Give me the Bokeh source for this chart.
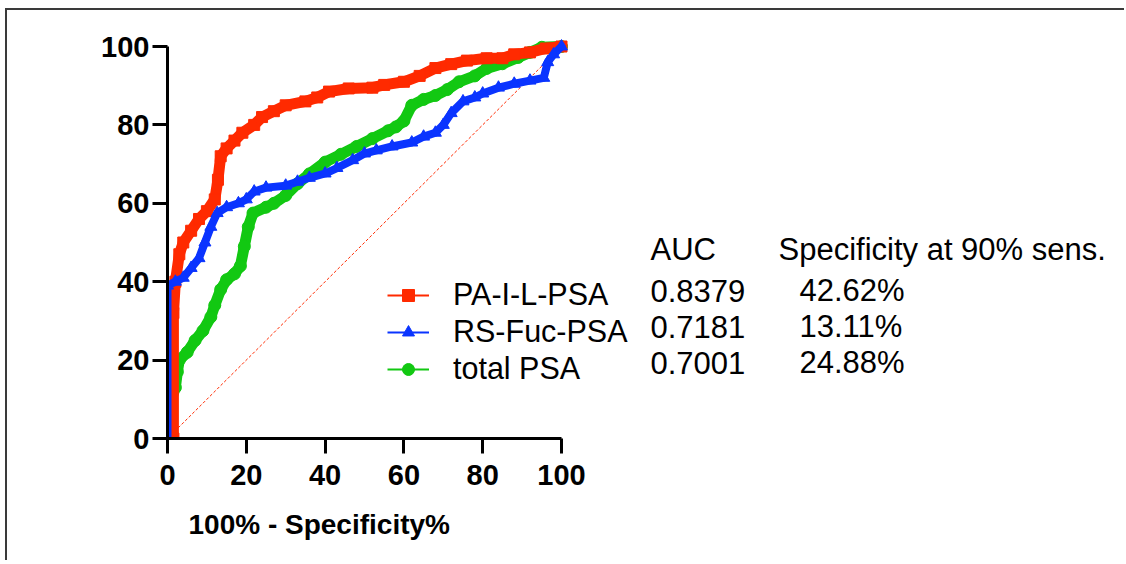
from bokeh.plotting import figure
from bokeh.models import Range1d, LinearAxis, FixedTicker, Legend, LegendItem, Label, Title
from bokeh.embed import file_html
from bokeh.resources import INLINE

# ---------------- data ----------------
series_names = ["PA-I-L-PSA", "RS-Fuc-PSA", "total PSA"]

red_x = [0, 1.5, 1.5, 2, 3, 4, 6, 8, 10, 12, 12.8, 13.5, 15, 17, 19, 22, 24, 27, 30, 35,
         38, 41, 46, 52, 55, 60, 64, 68, 72, 76, 81, 85, 88, 92, 96, 100]
red_y = [0, 0, 32, 40, 47, 50, 53, 56, 58, 61, 66, 72, 74, 76, 78, 80, 82, 83.5, 85, 86,
         87, 88.5, 89.3, 89.5, 90.2, 91, 92.5, 94.5, 95.5, 96.4, 97, 97, 98, 98.5, 99.5, 100]

blue_x = [0, 0, 2, 4, 6, 8, 9.5, 11, 12.6, 15, 18, 20, 22, 25, 30, 33, 36, 40, 43, 47, 50,
          53, 57, 62, 65, 68, 70, 72, 75, 78, 80, 84, 88, 92, 95.5, 96.5, 98, 100]
blue_y = [0, 39, 40, 41, 43.5, 46, 50, 54, 57.5, 59, 60, 61, 63, 64, 64.5, 65.5, 66.5, 67.6, 69,
          71, 72.7, 73.5, 74.5, 75.5, 77, 78, 80, 83, 86, 87, 88, 89.5, 90.5, 91.3, 92, 96, 98, 100]

green_x = [0, 0, 1, 2, 2.5, 3, 5, 7, 9, 11, 12, 13.5, 15, 17, 18.5, 19.5, 20.5, 21.7, 25, 27,
           30, 33, 36, 40, 44, 48, 52, 56, 58, 60, 62, 65, 68, 71, 74, 78, 81, 85, 89, 92, 95, 100]
green_y = [0, 5, 10, 13, 17, 20, 22, 25, 27.5, 31, 34, 38, 40.5, 42, 44, 49, 54, 57.5, 59, 60,
           62, 65, 67.5, 70.5, 72.5, 74.5, 76.5, 78.5, 79.5, 81, 85, 86.5, 87.5, 89, 91, 92.5, 94.4,
           95.6, 97.2, 98.5, 99.8, 100]

diag_x = [0, 100]
diag_y = [0, 100]

auc_header = "AUC"
spec_header = "Specificity at 90% sens."
auc_values = ["0.8379", "0.7181", "0.7001"]
spec_values = ["42.62%", "13.11%", "24.88%"]

x_ticks = [0, 20, 40, 60, 80, 100]
y_ticks = [0, 20, 40, 60, 80, 100]
x_label = "100% - Specificity%"

# ---------------- layout ----------------
ORIGIN_X, ORIGIN_Y = 7, 10        # page position of the canvas (margin + border)
W, H = 1119, 552
PX_X, PX_Y = 3.94, 3.92           # pixels per data unit
X0_PAGE, Y0_PAGE = 167, 438       # page position of data (0, 0)
FRAME_LEFT = X0_PAGE - ORIGIN_X
FRAME_BOTTOM = Y0_PAGE - ORIGIN_Y

x_end = (W - FRAME_LEFT) / PX_X
y_end = FRAME_BOTTOM / PX_Y

def dx(page_x):
    return (page_x - X0_PAGE) / PX_X

def dy(page_y):
    return (Y0_PAGE - page_y) / PX_Y

RED, BLUE, GREEN = "#FF2A00", "#0A34FF", "#12C812"
FONT = "Liberation Sans"

p = figure(width=W, height=H,
           x_range=Range1d(0, x_end), y_range=Range1d(0, y_end),
           x_axis_type=None, y_axis_type=None,
           output_backend="svg", toolbar_location=None,
           min_border_left=FRAME_LEFT, min_border_right=0, min_border_top=0,
           min_border_bottom=H - FRAME_BOTTOM)
p.outline_line_color = None
p.background_fill_color = "white"
p.border_fill_color = "white"
p.styles = {"margin-top": "8px", "margin-left": "5px",
            "border-top": "2px solid #3a3a3a", "border-left": "2px solid #3a3a3a"}

# axes
def style_axis(ax):
    ax.axis_line_width = 3
    ax.axis_line_color = "black"
    ax.major_tick_line_width = 3
    ax.major_tick_line_color = "black"
    ax.major_tick_in = 0
    ax.major_tick_out = 15
    ax.minor_tick_line_color = None
    ax.major_label_text_font = FONT
    ax.major_label_text_font_style = "bold"
    ax.major_label_text_font_size = "29px"
    ax.major_label_text_color = "black"

xaxis = LinearAxis(bounds=(0, 100), ticker=FixedTicker(ticks=x_ticks))
style_axis(xaxis)
xaxis.major_label_standoff = 11
p.add_layout(xaxis, "below")

yaxis = LinearAxis(bounds=(0, 100), ticker=FixedTicker(ticks=y_ticks))
style_axis(yaxis)
yaxis.major_label_standoff = 3
p.add_layout(yaxis, "left")

# x-axis title, placed under the axis (left-aligned with an offset so it is centred as in the reference)
xtitle = Title(text=x_label, align="left", offset=21, standoff=38,
               text_font=FONT, text_font_style="bold", text_font_size="28px",
               text_color="black")
p.add_layout(xtitle, "below")

# diagonal reference line
p.line(diag_x, diag_y, line_color=RED, line_width=1, line_dash="3 2")

# curves: green, red, blue (blue on top)
specs = [
    (green_x, green_y, GREEN, "circle", 12, 11),
    (red_x, red_y, RED, "square", 11, 11),
    (blue_x, blue_y, BLUE, "triangle", 12, 8),
]
legend_refs = {}
for xs, ys, col, mk, sz, bw in specs:
    p.line(xs, ys, line_color=col, line_width=bw, line_join="round", line_cap="round")
    thin = p.line(xs, ys, line_color=col, line_width=2)
    sc = p.scatter(xs, ys, marker=mk, size=sz, fill_color=col, line_color=col)
    legend_refs[col] = [thin, sc]

legend = Legend(items=[
    LegendItem(label=series_names[0], renderers=legend_refs[RED]),
    LegendItem(label=series_names[1], renderers=legend_refs[BLUE]),
    LegendItem(label=series_names[2], renderers=legend_refs[GREEN]),
], location=(220, 52))
legend.label_text_font = FONT
legend.label_text_font_size = "30.5px"
legend.label_text_color = "black"
legend.glyph_width = 42
legend.glyph_height = 30
legend.label_height = 30
legend.label_standoff = 24
legend.spacing = 2
legend.padding = 0
legend.margin = 0
legend.background_fill_alpha = 0
legend.border_line_alpha = 0
p.add_layout(legend)

# AUC / specificity table
COL1_X = dx(650)
COL2_X = dx(778)
COL2V_X = dx(799)
HEAD_Y = dy(249)
ROW_Y = [dy(290), dy(326), dy(362)]

def add_text(x, y, t):
    p.add_layout(Label(x=x, y=y, text=t, text_font=FONT, text_font_size="31px",
                       text_color="black", text_baseline="middle", text_align="left"))

add_text(COL1_X, HEAD_Y, auc_header)
add_text(COL2_X, HEAD_Y, spec_header)
for yv, a, s in zip(ROW_Y, auc_values, spec_values):
    add_text(COL1_X, yv, a)
    add_text(COL2V_X, yv, s)

open("out.html", "w").write(file_html(p, INLINE))
